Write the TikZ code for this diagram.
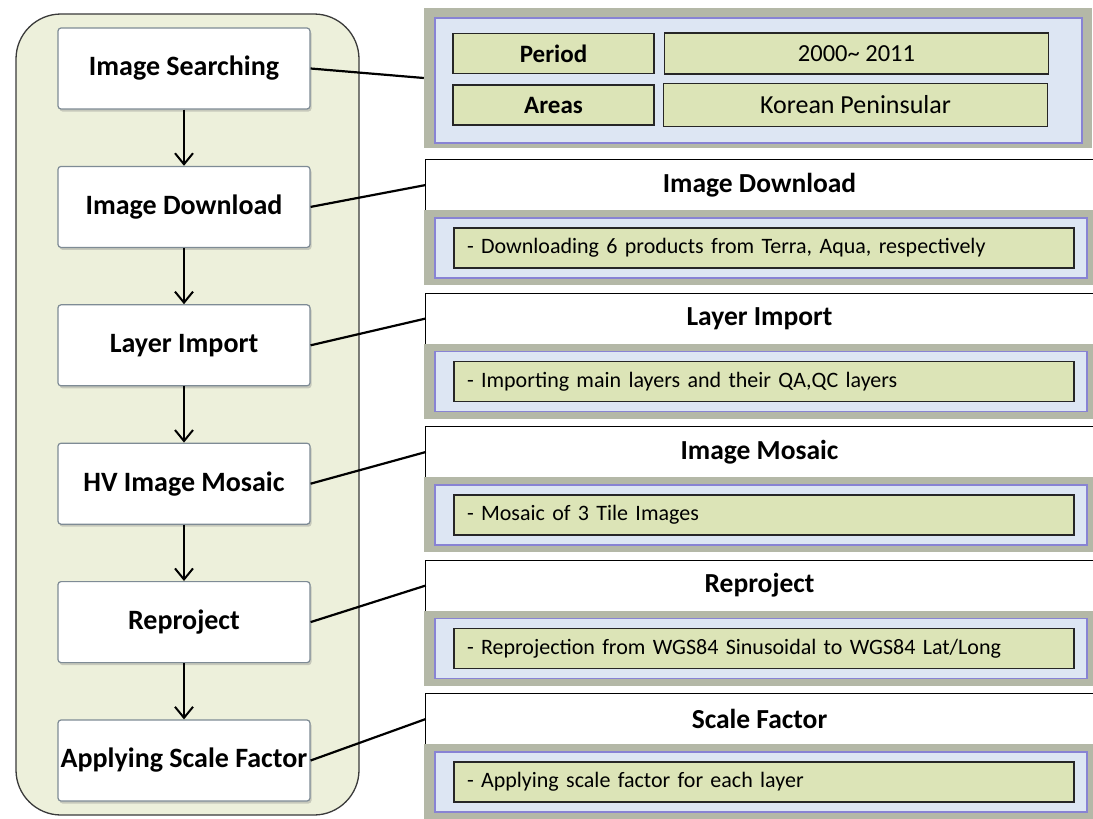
\documentclass[tikz,border=0pt]{standalone}
\usepackage{fontspec}
\setmainfont{Carlito}
\usepackage{xcolor}
\usetikzlibrary{arrows.meta,shadows}
\definecolor{flowbg}{HTML}{EDF0DB}
\definecolor{flowedge}{HTML}{3A3A3A}
\definecolor{stepedge}{HTML}{7E8B95}
\definecolor{bandgray}{HTML}{B4B8A7}
\definecolor{paneblue}{HTML}{DDE6F3}
\definecolor{paneedge}{HTML}{8883D4}
\definecolor{cellgreen}{HTML}{DCE4B7}
\tikzset{
  stepbox/.style={draw=stepedge, fill=white, rounded corners=3pt, line width=1.2pt,
    minimum width=252pt, minimum height=81pt, inner sep=0pt,
    font=\fontsize{28}{31}\selectfont\bfseries,
    drop shadow={shadow xshift=1.5pt, shadow yshift=-2.5pt, opacity=.35}},
  headbox/.style={fill=white, minimum width=667pt, minimum height=50pt, inner sep=0pt,
    font=\fontsize{27.5}{30}\selectfont\bfseries},
  notebox/.style={draw=black!85, fill=cellgreen, line width=1.5pt, minimum height=40pt,
    text width=594pt, inner xsep=13pt, inner ysep=0pt, align=left,
    font=\fontsize{22}{25}\selectfont},
  keycell/.style={draw=black!85, fill=cellgreen, line width=1.5pt, inner sep=0pt,
    minimum width=201pt, minimum height=40pt, font=\fontsize{25}{28}\selectfont\bfseries},
  valcell/.style={draw=black!85, fill=cellgreen, line width=1.5pt, inner sep=0pt,
    minimum width=384pt, minimum height=41pt},
  flow/.style={line width=2pt, -{Straight Barb[length=11pt,width=18pt,line width=2pt]}},
  link/.style={line width=2.2pt},
}

\begin{document}
\begin{tikzpicture}[x=1pt, y=-1pt]
  \useasboundingbox[fill=white] (0,0) rectangle (1093,819);
  % left flow
  \draw[fill=flowbg, draw=flowedge, line width=1.3pt, rounded corners=45pt] (16,14) rectangle (359,815);
  \node[stepbox] (s1) at (184,68.5) {Image Searching};
  \node[stepbox] (s2) at (184,206.9) {Image Download};
  \node[stepbox] (s3) at (184,345.3) {Layer Import};
  \node[stepbox] (s4) at (184,483.7) {HV Image Mosaic};
  \node[stepbox] (s5) at (184,622.1) {Reproject};
  \node[stepbox] (s6) at (184,760.5) {Applying Scale Factor};
  \draw[flow] (s1) -- (s2);
  \draw[flow] (s2) -- (s3);
  \draw[flow] (s3) -- (s4);
  \draw[flow] (s4) -- (s5);
  \draw[flow] (s5) -- (s6);

  % searching panel
  \node[fill=bandgray, minimum width=668pt, minimum height=140pt, inner sep=0pt] (search) at (758,78) {};
  \draw[fill=paneblue, draw=paneedge, line width=1.5pt] (435,18) rectangle (1082,143);
  \node[keycell] (period) at (553.5,53.5) {Period};
  \node[keycell] (areas) at (553.5,105) {Areas};
  \node[valcell, font=\fontsize{24.5}{27}\selectfont] (years) at (856.5,53.5) {2000\char`~\ 2011};
  \node[valcell, minimum height=43pt, font=\fontsize{26}{30}\selectfont] (korea) at (855.5,105) {Korean Peninsular};

  % download panel
  \node[headbox] (hd2) at (759.5,185) {Image Download};
  \draw[line width=1.3pt] (hd2.north east) -- (hd2.north west) -- (hd2.south west);
  \fill[bandgray] (424,210) rectangle (1093,285);
  \draw[fill=paneblue, draw=paneedge, line width=1.5pt] (435,218) rectangle (1087,278);
  \node[notebox] (nt2) at (764,248) {- Downloading 6 products from Terra, Aqua, respectively};

  % import panel
  \node[headbox] (hd3) at (759.5,318.5) {Layer Import};
  \draw[line width=1.3pt] (hd3.north east) -- (hd3.north west) -- (hd3.south west);
  \fill[bandgray] (424,343.5) rectangle (1093,418.5);
  \draw[fill=paneblue, draw=paneedge, line width=1.5pt] (435,351.5) rectangle (1087,411.5);
  \node[notebox] (nt3) at (764,381.5) {- Importing main layers and their QA,QC layers};

  % mosaic panel
  \node[headbox] (hd4) at (759.5,452) {Image Mosaic};
  \draw[line width=1.3pt] (hd4.north east) -- (hd4.north west) -- (hd4.south west);
  \fill[bandgray] (424,477) rectangle (1093,552);
  \draw[fill=paneblue, draw=paneedge, line width=1.5pt] (435,485) rectangle (1087,545);
  \node[notebox] (nt4) at (764,515) {- Mosaic of 3 Tile Images};

  % reproject panel
  \node[headbox] (hd5) at (759.5,585.5) {Reproject};
  \draw[line width=1.3pt] (hd5.north east) -- (hd5.north west) -- (hd5.south west);
  \fill[bandgray] (424,610.5) rectangle (1093,685.5);
  \draw[fill=paneblue, draw=paneedge, line width=1.5pt] (435,618.5) rectangle (1087,678.5);
  \node[notebox] (nt5) at (764,648.5) {- Reprojection from WGS84 Sinusoidal to WGS84 Lat/Long};

  % scale panel
  \node[headbox] (hd6) at (759.5,719) {Scale Factor};
  \draw[line width=1.3pt] (hd6.north east) -- (hd6.north west) -- (hd6.south west);
  \fill[bandgray] (424,744) rectangle (1093,819);
  \draw[fill=paneblue, draw=paneedge, line width=1.5pt] (435,752) rectangle (1087,812);
  \node[notebox] (nt6) at (764,782) {- Applying scale factor for each layer};

  % links
  \draw[link] (s1.east) -- (search.west);
  \draw[link] (s2.east) -- (hd2.west);
  \draw[link] (s3.east) -- (hd3.west);
  \draw[link] (s4.east) -- (hd4.west);
  \draw[link] (s5.east) -- (hd5.west);
  \draw[link] (s6.east) -- (hd6.west);
\end{tikzpicture}
\end{document}
